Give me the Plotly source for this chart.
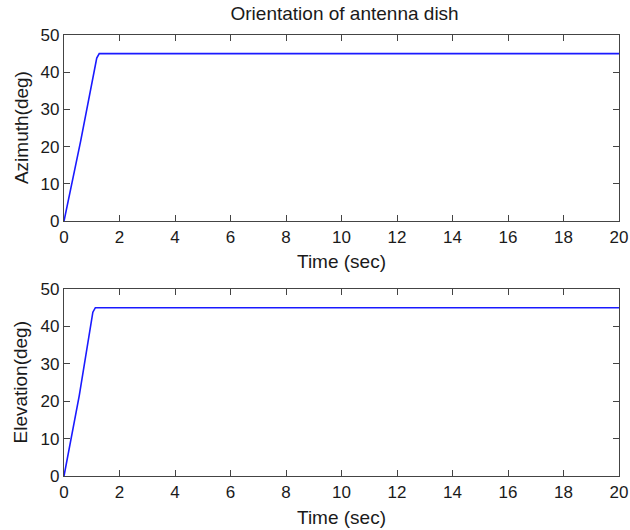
import plotly.graph_objects as go

time_az = [0, 0.6, 1.18, 1.27, 20]
azimuth = [0, 21.5, 43.8, 45, 45]
time_el = [0, 0.55, 1.04, 1.13, 20]
elevation = [0, 21.5, 43.8, 45, 45]
x_ticks = [0, 2, 4, 6, 8, 10, 12, 14, 16, 18, 20]
y_ticks = [0, 10, 20, 30, 40, 50]
x_title = "Time (sec)"
y_titles = ["Azimuth(deg)", "Elevation(deg)"]

fig = go.Figure()
fig.add_trace(go.Scatter(x=time_az, y=azimuth, mode="lines", xaxis="x", yaxis="y",
                         line=dict(color="#1a1aff", width=1.6)))
fig.add_trace(go.Scatter(x=time_el, y=elevation, mode="lines", xaxis="x2", yaxis="y2",
                         line=dict(color="#1a1aff", width=1.6)))

fam = "Liberation Sans, Arial, sans-serif"
tickfont = dict(family=fam, size=17, color="#1a1a1a")
labfont = dict(family=fam, size=19, color="#1a1a1a")
axcommon = dict(showgrid=False, zeroline=False, showline=True, linecolor="#444",
                linewidth=1.2, mirror="ticks", ticks="inside", ticklen=6,
                tickcolor="#444", tickfont=tickfont, automargin=False)

fig.update_layout(
    xaxis=dict(domain=[0, 1], anchor="y", range=[0, 20], tickvals=x_ticks,
               ticklabeloverflow="allow", **axcommon),
    yaxis=dict(domain=[0.578, 1], anchor="x", range=[0, 50], tickvals=y_ticks, **axcommon),
    xaxis2=dict(domain=[0, 1], anchor="y2", range=[0, 20], tickvals=x_ticks,
                ticklabeloverflow="allow", **axcommon),
    yaxis2=dict(domain=[0, 0.424], anchor="x2", range=[0, 50], tickvals=y_ticks, **axcommon),
    width=630, height=530,
    margin=dict(l=64, r=11, t=35, b=54),
    paper_bgcolor="white", plot_bgcolor="white",
    showlegend=False,
    title=dict(text="Orientation of antenna dish", x=0.547, xanchor="center",
               y=0.974, yanchor="middle", font=dict(family=fam, size=19, color="#1a1a1a")),
)

for xa, ya, yt, xs in (("x", "y", y_titles[0], -40), ("x2", "y2", y_titles[1], -41)):
    fig.add_annotation(text=x_title, xref=f"{xa} domain", yref=f"{ya} domain",
                       x=0.5, y=0, xanchor="center", yanchor="middle", yshift=xs,
                       showarrow=False, font=labfont)
    fig.add_annotation(text=yt, xref=f"{xa} domain", yref=f"{ya} domain",
                       x=0, y=0.5, xanchor="center", yanchor="middle", xshift=-43,
                       textangle=-90, showarrow=False, font=labfont)

fig.write_html("out.html", config={"displayModeBar": False},
               post_script="document.body.style.margin='0';")
